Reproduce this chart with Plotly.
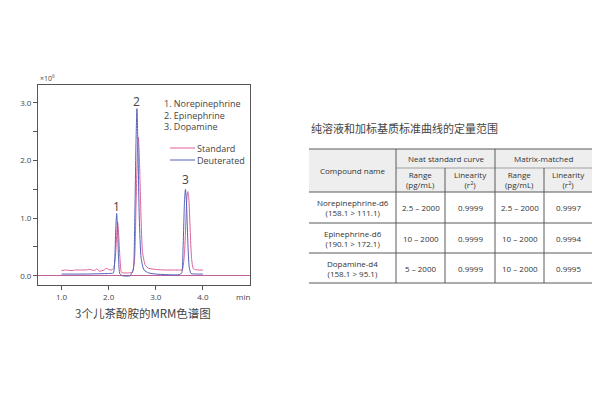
import plotly.graph_objects as go

# ---------------- data ----------------
STD_X = [1.0, 1.1, 1.2, 1.3, 1.4, 1.5, 1.6, 1.7, 1.75, 1.8, 1.9, 1.95, 2.0, 2.05, 2.1, 2.14, 2.17,
         2.19, 2.21, 2.24, 2.27, 2.3, 2.4, 2.5, 2.55, 2.58, 2.61, 2.63, 2.65, 2.68, 2.72, 2.78,
         2.85, 3.0, 3.2, 3.4, 3.5, 3.56, 3.61, 3.64, 3.66, 3.68, 3.7, 3.73, 3.76, 3.8, 3.9, 4.0]
STD_Y = [0.09, 0.10, 0.09, 0.10, 0.10, 0.10, 0.11, 0.09, 0.12, 0.08, 0.10, 0.13, 0.11, 0.10, 0.12, 0.30, 0.70,
         0.93, 0.75, 0.30, 0.06, 0.05, 0.05, 0.06, 0.30, 1.20, 2.10, 2.40, 2.10, 1.20, 0.40, 0.18,
         0.13, 0.11, 0.10, 0.10, 0.10, 0.10, 0.40, 1.00, 1.35, 1.46, 1.35, 0.80, 0.30, 0.12, 0.10, 0.10]

DEU_X = [1.0, 1.5, 2.0, 2.1, 2.13, 2.15, 2.17, 2.19, 2.21, 2.24, 2.3, 2.45, 2.52, 2.55, 2.58, 2.6,
         2.62, 2.65, 2.69, 2.75, 2.85, 3.0, 3.5, 3.55, 3.58, 3.61, 3.63, 3.65, 3.68, 3.71, 3.75, 3.9, 4.0]
DEU_Y = [0.03, 0.03, 0.04, 0.05, 0.30, 0.80, 1.08, 0.80, 0.30, 0.03, 0.0, 0.0, 0.10, 0.80, 2.30, 2.90,
         2.30, 1.00, 0.30, 0.10, 0.05, 0.03, 0.02, 0.05, 0.50, 1.30, 1.50, 1.30, 0.60, 0.15, 0.04, 0.03, 0.03]

PEAK_LABELS = ["1", "2", "3"]
PEAK_X = [2.17, 2.60, 3.63]
PEAK_Y = [1.20, 3.03, 1.67]

COMPOUND_LIST = ["1. Norepinephrine", "2. Epinephrine", "3. Dopamine"]
SERIES_NAMES = ["Standard", "Deuterated"]
X_TICKS = [1.0, 2.0, 3.0, 4.0]
Y_TICKS = [0.0, 1.0, 2.0, 3.0]

CHART_CAPTION = "3个儿茶酚胺的MRM色谱图"
TABLE_TITLE = "纯溶液和加标基质标准曲线的定量范围"
TABLE_COMPOUNDS = ["Norepinephrine-d6<br>(158.1 > 111.1)",
                   "Epinephrine-d6<br>(190.1 > 172.1)",
                   "Dopamine-d4<br>(158.1 > 95.1)"]
NEAT_RANGE = ["2.5 – 2000", "10 – 2000", "5 – 2000"]
NEAT_LIN = ["0.9999", "0.9999", "0.9999"]
MATRIX_RANGE = ["2.5 – 2000", "10 – 2000", "10 – 2000"]
MATRIX_LIN = ["0.9997", "0.9994", "0.9995"]

# ---------------- styles ----------------
PINK = "#e0609a"
BLUE = "#5262b8"
TXT = "#444444"
FONT = "Open Sans, Noto Sans CJK SC, sans-serif"
CJK = "Noto Sans CJK SC, sans-serif"
W, H = 600, 400


def px(x):
    return x / W


def py(y):
    return 1 - y / H


fig = go.Figure()
fig.add_trace(go.Scatter(x=STD_X, y=STD_Y, mode="lines", line=dict(color=PINK, width=1, shape="spline", smoothing=0.6),
                         showlegend=False, hoverinfo="skip"))
fig.add_trace(go.Scatter(x=DEU_X, y=DEU_Y, mode="lines", line=dict(color=BLUE, width=1, shape="spline", smoothing=0.6),
                         showlegend=False, hoverinfo="skip"))

annotations = []
shapes = []

for lab, x, y in zip(PEAK_LABELS, PEAK_X, PEAK_Y):
    annotations.append(dict(x=x, y=y, xref="x", yref="y", text=lab, showarrow=False,
                            font=dict(size=12, color=TXT, family=FONT), yanchor="middle"))

# compound list (one text block)
annotations.append(dict(x=px(162), y=py(95), xref="paper", yref="paper", text="<br>".join(COMPOUND_LIST),
                        showarrow=False, xanchor="left", yanchor="top", align="left",
                        font=dict(size=9, color=TXT, family=FONT)))
# series legend
for i, (name, col) in enumerate(zip(SERIES_NAMES, [PINK, BLUE])):
    yy = 148 + 12 * i
    shapes.append(dict(type="line", xref="paper", yref="paper", x0=px(170), x1=px(195), y0=py(yy), y1=py(yy),
                       line=dict(color=col, width=1)))
    annotations.append(dict(x=px(195), y=py(yy), xref="paper", yref="paper", text=name, showarrow=False,
                            xanchor="left", yanchor="middle", font=dict(size=9, color=TXT, family=FONT)))

annotations.append(dict(x=px(38), y=py(78), xref="paper", yref="paper", text="×10<sup>6</sup>", showarrow=False,
                        xanchor="left", yanchor="middle", font=dict(size=7, color=TXT, family=FONT)))
annotations.append(dict(x=px(243), y=py(296), xref="paper", yref="paper", text="min", showarrow=False,
                        xanchor="center", yanchor="middle", font=dict(size=8, color=TXT, family=FONT)))
annotations.append(dict(x=px(143), y=py(313), xref="paper", yref="paper", text=CHART_CAPTION, showarrow=False,
                        xanchor="center", yanchor="middle", font=dict(size=11.5, color=TXT, family=CJK)))

# ---------------- table ----------------
annotations.append(dict(x=px(309), y=py(128), xref="paper", yref="paper", text=TABLE_TITLE, showarrow=False,
                        xanchor="left", yanchor="middle", font=dict(size=11, color=TXT, family=CJK)))

COLS = [309, 396, 445, 495, 544, 592]
ROWS = [149, 168, 192, 223, 253, 283]
LINE = "#5a5a5a"
# header background
shapes.append(dict(type="rect", xref="paper", yref="paper", x0=px(COLS[0]), x1=px(COLS[-1]), y0=py(ROWS[0]),
                   y1=py(ROWS[2]), fillcolor="#eeeeee", line=dict(width=0), layer="below"))
# horizontal lines
for r in [ROWS[0], ROWS[2], ROWS[3], ROWS[4], ROWS[5]]:
    shapes.append(dict(type="line", xref="paper", yref="paper", x0=px(COLS[0]), x1=px(COLS[-1]), y0=py(r), y1=py(r),
                       line=dict(color=LINE, width=1)))
shapes.append(dict(type="line", xref="paper", yref="paper", x0=px(COLS[1]), x1=px(COLS[-1]), y0=py(ROWS[1]),
                   y1=py(ROWS[1]), line=dict(color="#8a8a8a", width=0.8)))
# vertical lines
for c in [COLS[1], COLS[3]]:
    shapes.append(dict(type="line", xref="paper", yref="paper", x0=px(c), x1=px(c), y0=py(ROWS[0]), y1=py(ROWS[5]),
                       line=dict(color=LINE, width=1)))
for c in [COLS[2], COLS[4]]:
    shapes.append(dict(type="line", xref="paper", yref="paper", x0=px(c), x1=px(c), y0=py(ROWS[1]), y1=py(ROWS[5]),
                       line=dict(color=LINE, width=1)))

TF = dict(size=8, color="#333333", family=FONT)


def cell(text, x0, x1, y0, y1):
    annotations.append(dict(x=px((x0 + x1) / 2), y=py((y0 + y1) / 2), xref="paper", yref="paper", text=text,
                            showarrow=False, xanchor="center", yanchor="middle", font=TF, align="center"))


cell("Compound name", COLS[0], COLS[1], ROWS[0], ROWS[2])
cell("Neat standard curve", COLS[1], COLS[3], ROWS[0], ROWS[1])
cell("Matrix-matched", COLS[3], COLS[5], ROWS[0], ROWS[1])
for k in range(2):
    cell("Range<br>(pg/mL)", COLS[1 + 2 * k], COLS[2 + 2 * k], ROWS[1], ROWS[2])
    cell("Linearity<br>(r<sup>2</sup>)", COLS[2 + 2 * k], COLS[3 + 2 * k], ROWS[1], ROWS[2])

for i in range(len(TABLE_COMPOUNDS)):
    y0, y1 = ROWS[2 + i], ROWS[3 + i]
    vals = [TABLE_COMPOUNDS[i], NEAT_RANGE[i], NEAT_LIN[i], MATRIX_RANGE[i], MATRIX_LIN[i]]
    for j, v in enumerate(vals):
        cell(v, COLS[j], COLS[j + 1], y0, y1)

axis_common = dict(showline=True, linecolor="#555555", linewidth=1, mirror=True, showgrid=False,
                   ticks="outside", ticklen=4, tickcolor="#555555",
                   tickfont=dict(size=8, color=TXT, family=FONT))

fig.update_layout(
    width=W, height=H, margin=dict(l=0, r=0, t=0, b=0),
    paper_bgcolor="white", plot_bgcolor="white",
    xaxis=dict(domain=[px(38), px(250)], range=[0.5, 5.0], tickvals=X_TICKS, tickformat=".1f",
               zeroline=False, **axis_common),
    yaxis=dict(domain=[py(285), py(85)], range=[-0.16, 3.31], tickvals=Y_TICKS, tickformat=".1f",
               zeroline=True, zerolinecolor="#c0609a", zerolinewidth=1,
               minor=dict(tickvals=[0.5, 1.5, 2.5], ticks="outside", ticklen=4, tickcolor="#555555"),
               **axis_common),
    annotations=annotations, shapes=shapes, showlegend=False,
)

fig.write_html("out.html")
